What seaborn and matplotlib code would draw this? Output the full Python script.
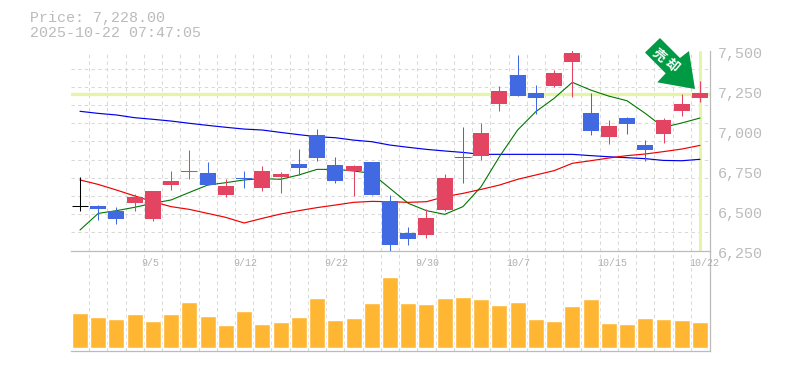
import numpy as np
import pandas as pd
import matplotlib
matplotlib.use("Agg")
import matplotlib.pyplot as plt
import seaborn as sns
from matplotlib.patches import Polygon
from matplotlib.transforms import Affine2D, ScaledTranslation

sns.set_style("white")
plt.rcParams['font.family'] = ['Liberation Mono', 'DejaVu Sans']

price_text = "Price: 7,228.00"
time_text = "2025-10-22 07:47:05"

body_top = [6526,6528,6497,6584,6622,6684,6747,6734,6653,6703,6747,6728,6790,6972,6784,6778,6803,6559,6359,6453,6703,6834,6984,7247,7347,7234,7359,7484,7109,7028,7078,6909,7066,7165,7234]
body_bot = [6526,6509,6447,6547,6447,6659,6741,6659,6597,6697,6641,6709,6765,6828,6684,6747,6597,6284,6322,6347,6503,6828,6841,7166,7215,7203,7278,7428,6997,6959,7041,6878,6978,7122,7203]
highs = [6709,6534,6522,6603,6622,6747,6878,6803,6697,6747,6778,6741,6884,7009,6834,6784,6803,6597,6397,6509,6728,7022,7047,7278,7472,7284,7378,7503,7234,7066,7084,6941,7078,7228,7309]
lows = [6499,6441,6416,6497,6434,6628,6697,6659,6584,6641,6622,6609,6722,6809,6672,6590,6597,6247,6284,6328,6497,6672,6816,7122,7215,7103,7272,7209,6972,6916,6978,6809,6922,7090,7178]
kinds = list("kbbrrrrbrbrrbbbrbbbrrbrrbbrrbrbbrrr")
ma_short = [6378,6482,6499,6520,6545,6566,6613,6659,6674,6691,6699,6695,6722,6757,6757,6747,6732,6638,6545,6499,6476,6524,6649,6836,7003,7118,7201,7301,7253,7215,7186,7107,7020,7047,7078]
ma_mid = [6691,6663,6628,6591,6555,6524,6507,6482,6457,6422,6451,6478,6499,6518,6534,6551,6557,6555,6551,6555,6586,6607,6632,6659,6695,6722,6749,6795,6811,6828,6843,6853,6868,6884,6907]
ma_long = [7120,7107,7097,7080,7070,7059,7045,7032,7020,7009,7003,6988,6974,6961,6955,6940,6930,6909,6895,6882,6872,6863,6851,6851,6851,6851,6851,6851,6843,6836,6830,6824,6813,6811,6820]
volume = [35,31,29,34,27,34,46,32,23,37,24,26,31,50,28,30,45,71,45,44,50,51,49,43,46,29,27,42,49,25,24,30,29,28,26]
tick_pos = [4,9,14,19,24,29,34]
tick_labels = ["9/5","9/12","9/22","9/30","10/7","10/15","10/22"]
tick_shift_px = [-2.5,1,1.3,1,1,4,4]
ytick_vals = [6250,6500,6750,7000,7250,7500]
ytick_labels = ["6,250","6,500","6,750","7,000","7,250","7,500"]
last_price = 7228
signal_chars = ["売", "却"]

GRAY = "#bbbbbb"; GRID = "#d8d8d8"; HL = "#e4f5a8"
palette = {"r": "#e34462", "b": "#4169e1", "k": "#000000"}
W, H = 785, 370
n = len(volume)
xi = np.arange(n)
fig = plt.figure(figsize=(W/100, H/100), dpi=100, facecolor="white")


def rect(l, t, r, b):
    return [l/W, 1-b/H, (r-l)/W, (b-t)/H]


ax = fig.add_axes(rect(70.5, 50.5, 710, 250.5))
axv = fig.add_axes(rect(70.5, 250.5, 710, 350.5))
xlim = (-0.52, 34.55)
grid_kw = dict(color=GRID, lw=0.75, ls=(0, (3.2, 3.2)))

# price pane
ax.axhline(last_price, color=HL, lw=2.4, zorder=1.5)
ax.axvline(xi[-1], ymax=0.995, color=HL, lw=2.2, zorder=1.5)

df = pd.DataFrame({"i": xi, "short": ma_short, "mid": ma_mid, "long": ma_long})
sns.lineplot(data=df, x="i", y="long", color="#0000ee", lw=0.85, ax=ax, zorder=2)
sns.lineplot(data=df, x="i", y="mid", color="#ee0000", lw=0.85, ax=ax, zorder=2)
sns.lineplot(data=df, x="i", y="short", color="#007700", lw=0.8, ax=ax, zorder=2)

cols = [palette[k] for k in kinds]
for i in xi:
    ax.plot([i, i], [lows[i], highs[i]], color=cols[i], lw=0.75, zorder=3, solid_capstyle="butt")
heights = np.array(body_top) - np.array(body_bot)
ax.bar(xi, heights, bottom=body_bot, width=0.877, color=cols, lw=0, zorder=3.1)
for i in (0, 6, 9, 21):
    ax.plot([i-0.44, i+0.44], [body_top[i], body_top[i]], color=cols[i], lw=0.75, zorder=3.2,
            solid_capstyle="butt")

ax.set_xlim(*xlim)
ax.set_ylim(6250, 7500)
ax.set_xlabel("")
ax.set_ylabel("")
ax.yaxis.tick_right()
ax.set_yticks(ytick_vals, ytick_labels)
ax.set_yticks(np.linspace(6250, 7500, 12), minor=True)
ax.grid(False)
ax.grid(which="minor", axis="y", **grid_kw)
ax.tick_params(axis="y", which="major", length=0, pad=5.5, labelsize=10.8, labelcolor=GRAY,
               right=False, labelright=True, labelleft=False)
shift = ScaledTranslation(0, -0.02, fig.dpi_scale_trans)
for lab in ax.get_yticklabels():
    lab.set_transform(lab.get_transform() + shift)

# volume pane
vf = pd.DataFrame({"i": [str(i) for i in xi], "v": volume})
sns.barplot(data=vf, x="i", y="v", color="#ffb733", saturation=1, width=0.877, gap=0,
            ax=axv, zorder=2, errorbar=None)
axv.set_xlim(*xlim)
axv.set_ylim(-2, 97.5)
axv.set_yticks([])
axv.set_xlabel("")
axv.set_ylabel("")
axv.set_xticks([])
tr = axv.get_xaxis_transform()
for p, lab, dx in zip(tick_pos, tick_labels, tick_shift_px):
    axv.text(p + dx/18.235, 1-12/100, lab, transform=tr, ha="center", va="center",
             fontsize=7.2, color="#b0b0b0", zorder=5, clip_on=False)

for a in (ax, axv):
    a.set_facecolor("none")
    a.set_axisbelow(True)
    a.set_xticks(xi[:-1] + 0.5, minor=True)
    a.tick_params(which="both", axis="x", length=0, labelbottom=False)
    a.tick_params(which="minor", axis="y", length=0)
    a.grid(which="minor", axis="x", **grid_kw)
    for s in ("top", "left"):
        a.spines[s].set_visible(False)
    for s in ("right", "bottom"):
        a.spines[s].set_color(GRAY)
        a.spines[s].set_linewidth(0.9)

# header
fig.text(30/W, 1-18/H, price_text, fontsize=10.8, color=GRAY, va="center", ha="left")
fig.text(30/W, 1-33/H, time_text, fontsize=10.8, color=GRAY, va="center", ha="left")

# signal arrow: pixel offsets from its tip, which sits just up-left of the last candle
fig.canvas.draw()
ax_x, ax_y = ax.transData.transform((xi[-1], last_price))
tip_tr = Affine2D().scale(1, -1).translate(ax_x - 5, ax_y + 5)
arrow_px = [(-50,-36.5),(-35,-51),(-15,-31),(-6,-38),(0,0),(-37.7,-6.7),(-29.3,-15.7)]
ax.add_patch(Polygon(arrow_px, closed=True, transform=tip_tr, facecolor="#009a44",
                     edgecolor="none", zorder=6, clip_on=False))
for ch, off in zip(signal_chars, [(-36, -34), (-23.3, -24)]):
    cx, cy = tip_tr.transform(off)
    fig.text(cx/W, cy/H, ch, rotation=-40, rotation_mode="anchor", fontsize=9.5, color="white",
             fontweight="bold", ha="center", va="center",
             family=["Noto Sans CJK JP", "DejaVu Sans"], zorder=7)

fig.savefig("out.png", dpi=100, facecolor="white")
